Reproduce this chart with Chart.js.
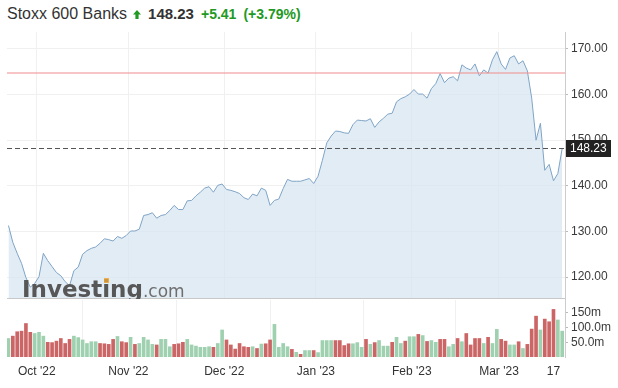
<!DOCTYPE html>
<html>
<head>
<meta charset="utf-8">
<script src="https://cdn.jsdelivr.net/npm/chart.js@4.4.0/dist/chart.umd.min.js"></script>
<style>
  html, body { margin: 0; padding: 0; background: #fff; }
  body { width: 618px; height: 388px; position: relative; overflow: hidden; font-family: Arial, "Liberation Sans", sans-serif; }
  #hdr { position: absolute; left: 7px; top: 4px; height: 20px; line-height: 20px; white-space: nowrap; color: #333; }
  #hdr span, #hdr svg { display: inline-block; vertical-align: baseline; }
  #hdr .name { font-size: 16px; }
  #hdr svg { margin: 0 7px 0 6px; }
  #hdr .last { font-size: 15px; font-weight: bold; margin-right: 7px; }
  #hdr .chg { font-size: 14px; font-weight: bold; color: #229922; margin-right: 7px; }
  #priceBox { position: absolute; left: 0; top: 0; }
  #volBox { position: absolute; left: 0; top: 286px; }
  #clip { position: absolute; left: 0; top: 0; width: 618px; height: 299px; overflow: hidden; pointer-events: none; }
  #logo { position: absolute; left: 22px; top: 277px; line-height: 25px; white-space: nowrap; font-family: "DejaVu Sans", sans-serif; }
  #logo .inv { font-size: 23px; font-weight: bold; color: #575757; }
  #logo .com { font-size: 17px; color: #6e6e6e; }
  #dot { position: absolute; left: 104px; top: 278px; width: 5px; height: 5px; background: rgba(240,165,50,0.8); }
</style>
</head>
<body>
<div id="hdr"><span class="name">Stoxx 600 Banks</span><svg width="8" height="9" viewBox="0 0 8 9"><polygon points="4,0 8,4.5 5.6,4.5 5.6,9 2.4,9 2.4,4.5 0,4.5" fill="#229922"/></svg><span class="last" id="last"></span><span class="chg" id="chg"></span><span class="chg" id="pct"></span></div>
<div id="volBox"><canvas id="volChart" width="618" height="102"></canvas></div>
<div id="priceBox"><canvas id="priceChart" width="618" height="312"></canvas></div>
<div id="clip"><div id="logo"><span class="inv">Investing</span><span class="com">.com</span></div><div id="dot"></div></div>

<script>
// daily closes, Sep 22 2022 -> Mar 21 2023 (one per trading day)
var prices = [
  131.3, 127.6, 125.2, 123.0, 119.9, 117.8, 118.6, 120.1, 125.2, 123.6,
  122.3, 121.0, 120.3, 119.0, 118.1, 121.4, 122.2, 125.0, 125.8, 126.3,
  126.6, 127.4, 128.4, 128.2, 127.9, 128.9, 128.5, 129.1, 130.1, 130.1,
  130.5, 133.5, 133.7, 134.1, 132.9, 133.5, 133.7, 134.6, 135.7, 134.8,
  134.8, 136.7, 136.8, 137.8, 138.6, 139.5, 139.8, 138.6, 140.1, 140.4,
  139.2, 139.0, 138.7, 138.3, 137.4, 137.0, 138.2, 137.8, 139.5, 139.0,
  135.7, 136.8, 137.1, 139.4, 141.4, 141.0, 141.0, 141.0, 141.3, 141.6,
  140.5, 142.1, 145.6, 149.4, 150.9, 152.0, 151.9, 151.6, 151.5, 153.4,
  154.4, 154.3, 154.2, 154.7, 152.8, 154.0, 154.8, 155.7, 155.9, 158.4,
  159.1, 159.5, 160.1, 161.1, 160.1, 160.1, 159.2, 161.3, 162.4, 164.6,
  162.6, 163.6, 163.9, 163.0, 166.5, 165.8, 165.4, 166.7, 164.1, 165.4,
  164.7, 167.6, 169.4, 166.7, 165.5, 168.0, 168.5, 166.7, 167.4, 165.2,
  159.2, 150.0, 153.7, 143.4, 144.7, 141.1, 142.7, 148.23
];

// volume in millions
var volumes = [
  63, 71, 86, 88, 114, 84, 80, 84, 71, 50,
  49, 54, 63, 46, 60, 71, 66, 58, 46, 52,
  52, 46, 45, 43, 60, 70, 52, 49, 67, 43,
  46, 67, 58, 43, 41, 60, 60, 35, 43, 45,
  50, 60, 41, 37, 33, 33, 35, 33, 46, 92,
  58, 41, 27, 46, 35, 33, 35, 29, 44, 45,
  58, 111, 33, 46, 35, 26, 16, 9, 22, 22,
  22, 15, 56, 56, 56, 56, 56, 39, 45, 45,
  49, 33, 60, 43, 49, 56, 37, 37, 50, 67,
  46, 54, 69, 69, 77, 73, 53, 56, 50, 60,
  60, 35, 43, 63, 52, 80, 41, 63, 63, 46,
  67, 46, 94, 60, 54, 41, 41, 52, 29, 43,
  95, 139, 92, 129, 120, 162, 126, 88
];

// 1 = up day, 0 = down day
var volUp = [
  1, 0, 0, 0, 0, 0, 1, 1, 1, 0,
  0, 0, 0, 0, 0, 1, 1, 1, 1, 1,
  1, 0, 0, 0, 0, 1, 0, 0, 1, 0,
  1, 1, 1, 1, 0, 1, 1, 1, 0, 0,
  0, 1, 1, 1, 1, 1, 1, 0, 1, 1,
  0, 0, 0, 0, 0, 0, 1, 0, 1, 0,
  0, 1, 1, 1, 1, 0, 1, 0, 1, 1,
  0, 1, 1, 1, 1, 0, 0, 0, 0, 1,
  1, 1, 0, 1, 0, 1, 1, 1, 0, 1,
  1, 0, 1, 1, 0, 1, 0, 1, 1, 0,
  0, 1, 1, 0, 1, 0, 0, 0, 0, 1,
  0, 1, 1, 0, 0, 1, 1, 0, 1, 0,
  0, 0, 1, 0, 0, 0, 1, 1
];

var monthStarts = [7, 28, 50, 71, 93, 113];   // index of first trading day of each month
var xLabels = ["Oct '22", "Nov '22", "Dec '22", "Jan '23", "Feb '23", "Mar '23", "17"];
var lastTick = 125;                            // Mar 17
var priceTicks = [120, 130, 140, 150, 160, 170];
var volTicks = [50, 100, 150];
var volTickLabels = ['50.0m', '100.0m', '150m'];
var lastPrice = 148.23;
var change = 5.41;
var changePct = 3.79;
var redLevel = 164.7;

document.getElementById('last').textContent = lastPrice.toFixed(2);
document.getElementById('chg').textContent = '+' + change.toFixed(2);
document.getElementById('pct').textContent = '(+' + changePct.toFixed(2) + '%)';

Chart.defaults.font.family = 'Arial, "Liberation Sans", sans-serif';
Chart.defaults.font.size = 12;
Chart.defaults.color = '#3a3a3a';

var xMin = -0.34, xMax = 127.64;
var gridCol = '#f0f0f0';
var monthTickPos = monthStarts.map(function(i) { return i - 0.5; });

var pricePoints = prices.map(function(v, i) { return {x: i, y: v}; });
var volPoints = volumes.map(function(v, i) { return {x: i, y: v}; });

// red level, dashed last-price line, panel border, price tag
var priceOverlay = {
  id: 'priceOverlay',
  afterDatasetsDraw: function(chart) {
    var ctx = chart.ctx, a = chart.chartArea, y = chart.scales.y;
    ctx.save();
    var yy = Math.round(y.getPixelForValue(redLevel));
    ctx.fillStyle = 'rgba(240,150,150,0.55)';
    ctx.fillRect(a.left, yy - 1, a.right - a.left, 2);

    ctx.lineWidth = 1;
    yy = Math.round(y.getPixelForValue(lastPrice)) + 0.5;
    ctx.setLineDash([5, 3]);
    ctx.strokeStyle = '#555';
    ctx.beginPath(); ctx.moveTo(a.left, yy); ctx.lineTo(a.right, yy); ctx.stroke();
    ctx.setLineDash([]);

    ctx.strokeStyle = '#c8c8c8';
    ctx.beginPath(); ctx.moveTo(a.left, a.bottom - 0.5); ctx.lineTo(a.right, a.bottom - 0.5); ctx.stroke();
    ctx.restore();
  },
  afterDraw: function(chart) {
    var ctx = chart.ctx, a = chart.chartArea, y = chart.scales.y;
    var yy = y.getPixelForValue(lastPrice);
    ctx.save();
    ctx.fillStyle = '#222';
    ctx.fillRect(a.right + 1, Math.round(yy) - 8, 45, 17);
    ctx.fillStyle = '#fff';
    ctx.font = '12px Arial, "Liberation Sans", sans-serif';
    ctx.textBaseline = 'middle';
    ctx.fillText(lastPrice.toFixed(2), a.right + 5, Math.round(yy) + 0.5);
    ctx.restore();
  }
};

var ctx1 = document.getElementById('priceChart').getContext('2d');
new Chart(ctx1, {
  type: 'line',
  data: {
    datasets: [{
      data: pricePoints,
      borderColor: '#7fa4c6',
      borderWidth: 1,
      backgroundColor: 'rgba(214,228,241,0.7)',
      fill: 'start',
      pointRadius: 0,
      tension: 0
    }]
  },
  options: {
    responsive: false,
    animation: false,
    layout: { padding: { left: 7, top: 32, right: 0, bottom: 13 } },
    plugins: { legend: { display: false }, tooltip: { enabled: false } },
    scales: {
      x: {
        type: 'linear', min: xMin, max: xMax,
        afterBuildTicks: function(s) { s.ticks = monthTickPos.map(function(v) { return {value: v}; }); },
        afterFit: function(s) { s.height = 0; },
        ticks: { display: false },
        grid: { color: gridCol, drawTicks: false },
        border: { display: false }
      },
      y: {
        position: 'right', min: 115.2, max: 173.7,
        afterBuildTicks: function(s) { s.ticks = priceTicks.map(function(v) { return {value: v}; }); },
        afterFit: function(s) { s.width = 53; },
        grid: { color: gridCol, tickColor: '#bbb', tickLength: 3 },
        border: { color: '#ccc' },
        ticks: { padding: 3, callback: function(v) { return v.toFixed(2); } }
      }
    }
  },
  plugins: [priceOverlay]
});

var ctx2 = document.getElementById('volChart').getContext('2d');
new Chart(ctx2, {
  type: 'bar',
  data: {
    datasets: [{
      data: volPoints,
      backgroundColor: volUp.map(function(u) { return u ? '#9fd1b0' : '#cc6666'; }),
      barThickness: 3
    }]
  },
  options: {
    responsive: false,
    animation: false,
    layout: { padding: { left: 7, top: 14, right: 0, bottom: 0 } },
    plugins: { legend: { display: false }, tooltip: { enabled: false } },
    scales: {
      x: {
        type: 'linear', min: xMin, max: xMax, offset: false,
        afterBuildTicks: function(s) {
          s.ticks = monthTickPos.concat([lastTick]).map(function(v) { return {value: v}; });
        },
        afterFit: function(s) { s.height = 31; },
        ticks: {
          autoSkip: false, maxRotation: 0, padding: 7, color: '#333',
          callback: function(v, i) { return xLabels[i]; }
        },
        grid: {
          drawTicks: false,
          color: function(c) { return c.index < monthStarts.length ? gridCol : 'rgba(0,0,0,0)'; }
        },
        border: { display: false }
      },
      y: {
        position: 'right', min: 0, max: 194,
        afterBuildTicks: function(s) { s.ticks = volTicks.map(function(v) { return {value: v}; }); },
        afterFit: function(s) { s.width = 53; },
        grid: { drawOnChartArea: false, tickColor: '#bbb', tickLength: 3 },
        border: { color: '#ccc' },
        ticks: {
          padding: 3,
          callback: function(v) { return volTickLabels[volTicks.indexOf(v)]; }
        }
      }
    }
  }
});
</script>
</body>
</html>
